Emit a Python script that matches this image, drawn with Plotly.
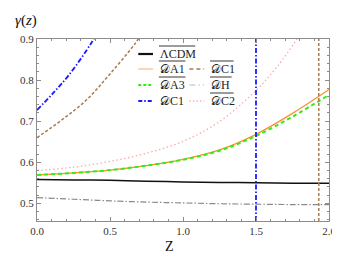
import plotly.graph_objects as go

# ---- data ----
z_grid = [0.0, 0.25, 0.5, 0.75, 1.0, 1.25, 1.5, 1.75, 2.0]
lcdm = [0.558, 0.557, 0.556, 0.554, 0.552, 0.551, 0.550, 0.549, 0.549]
da1 = [0.569, 0.574, 0.581, 0.592, 0.607, 0.630, 0.668, 0.719, 0.777]
da3 = [0.569, 0.574, 0.581, 0.592, 0.606, 0.628, 0.664, 0.711, 0.764]
dh = [0.514, 0.510, 0.506, 0.503, 0.501, 0.499, 0.498, 0.497, 0.497]

z_dc2 = [0.0, 0.25, 0.5, 0.75, 1.0, 1.25, 1.5, 1.65, 1.8]
dc2 = [0.580, 0.588, 0.602, 0.622, 0.651, 0.699, 0.775, 0.835, 0.910]

z_dc1 = [0.0, 0.11, 0.22, 0.37, 0.42]
dc1 = [0.727, 0.768, 0.813, 0.889, 0.920]
dc1_pole = 1.5

z_dc1bar = [0.0, 0.17, 0.34, 0.5, 0.67, 0.75]
dc1bar = [0.660, 0.703, 0.752, 0.815, 0.888, 0.930]
dc1bar_pole = 1.93

legend_labels = ["ΛCDM", "𝒟A1", "𝒟A3", "𝒟C1", "𝒟C1", "𝒟H", "𝒟C2"]

# ---- layout constants ----
W, H = 340, 254
ML, MR, MT, MB = 25, 18, 31, 41
Y_MIN, Y_MAX = 0.457, 0.9
SERIF = "Liberation Serif, Times New Roman, serif"

C_BLACK = "#111111"
C_ORANGE = "#f7922f"
C_GREEN = "#33ee11"
C_BLUE = "#1a1aff"
C_BROWN = "#a87c50"
C_PINK = "#ffaaaa"
C_GRAY = "#8a8a8a"

DASH_BLUE = "5px,2px,1.5px,2px"
DASH_BROWN = "3px,2px"
DASH_GREEN = "4px,3px"
DASH_GRAY = "6px,2px,1.5px,2px"
DASH_PINK = "1.5px,2.5px"

fig = go.Figure()

def add(x, y, color, width, dash="solid"):
    fig.add_trace(go.Scatter(x=x, y=y, mode="lines", showlegend=False,
                             line=dict(color=color, width=width, dash=dash, shape="spline"),
                             hoverinfo="skip"))

add(z_grid, dh, C_GRAY, 1.2, DASH_GRAY)
add(z_grid, lcdm, C_BLACK, 1.5)
add(z_dc2, dc2, C_PINK, 1.3, DASH_PINK)
add(z_grid, da1, C_ORANGE, 1.3)
add(z_grid, da3, C_GREEN, 2.0, DASH_GREEN)
add(z_dc1bar, dc1bar, C_BROWN, 1.5, DASH_BROWN)
add([dc1bar_pole, dc1bar_pole], [Y_MIN, Y_MAX], C_BROWN, 1.5, DASH_BROWN)
add(z_dc1, dc1, C_BLUE, 1.8, DASH_BLUE)
add([dc1_pole, dc1_pole], [Y_MIN, Y_MAX], C_BLUE, 1.8, DASH_BLUE)

# ---- manual legend (positions in pixels -> paper) ----
PW = W - ML - MR
PH = H - MT - MB
def px(x):
    return (x - ML) / PW
def py(y):
    return (H - MB - y) / PH

shapes = []
annotations = []
entries = [
    # (label index, sample x0, text x, row y, color, width, dash, overline x1)
    (0, 128, 148, 46, C_BLACK, 2.2, "solid", 186),
    (1, 128, 148, 61, "#f9c89c", 1.5, "solid", 176),
    (2, 128, 148, 77, C_GREEN, 2.2, "3px,2px", 176),
    (3, 128, 148, 93, C_BLUE, 1.8, "4px,2px,1.5px,2px", None),
    (4, 180, 200, 61, C_BROWN, 1.5, "4px,3px", 225),
    (5, 180, 200, 77, "#bbbbbb", 1.2, "6px,3px,1.5px,3px", 223),
    (6, 180, 200, 93, "#ffb0b0", 1.3, "1.5px,2px", 225),
]
for idx, sx, tx, ry, col, wd, dsh, ox1 in entries:
    shapes.append(dict(type="line", xref="paper", yref="paper",
                       x0=px(sx), x1=px(sx + 15), y0=py(ry), y1=py(ry),
                       line=dict(color=col, width=wd, dash=dsh)))
    annotations.append(dict(text=legend_labels[idx], xref="paper", yref="paper",
                            x=px(tx), y=py(ry), xanchor="left", yanchor="middle",
                            showarrow=False, font=dict(family=SERIF, size=12, color="#222")))
    if ox1 is not None:
        shapes.append(dict(type="line", xref="paper", yref="paper",
                           x0=px(tx + 1), x1=px(ox1), y0=py(ry - 8), y1=py(ry - 8),
                           line=dict(color="#222", width=0.9)))

annotations.append(dict(text="<i>γ</i>(<i>z</i>)", xref="paper", yref="paper",
                        x=px(1), y=py(13), xanchor="left", yanchor="middle",
                        showarrow=False, font=dict(family=SERIF, size=15, color="#111")))
annotations.append(dict(text="Z", xref="paper", yref="paper",
                        x=px(160), y=py(238), xanchor="center", yanchor="middle",
                        showarrow=False, font=dict(family=SERIF, size=14, color="#111")))

axis_common = dict(showgrid=False, zeroline=False, showline=True, linecolor="#8c8c8c",
                   linewidth=1.3, mirror="allticks", ticks="inside", ticklen=4,
                   tickcolor="#8c8c8c", tickwidth=1,
                   tickfont=dict(family=SERIF, size=11, color="#333"))

fig.update_layout(
    width=W, height=H, margin=dict(l=ML, r=MR, t=MT, b=MB),
    paper_bgcolor="white", plot_bgcolor="white",
    shapes=shapes, annotations=annotations, showlegend=False,
    xaxis=dict(range=[0, 2], tickvals=[0, 0.5, 1.0, 1.5, 2.0], tickformat=".1f",
               minor=dict(dtick=0.1, ticks="inside", ticklen=2, tickcolor="#8c8c8c"),
               **axis_common),
    yaxis=dict(range=[Y_MIN, Y_MAX], tickvals=[0.5, 0.6, 0.7, 0.8, 0.9], tickformat=".1f",
               minor=dict(tick0=0.5, dtick=0.02, ticks="inside", ticklen=2, tickcolor="#8c8c8c"),
               **axis_common),
)

fig.write_html("out.html")
